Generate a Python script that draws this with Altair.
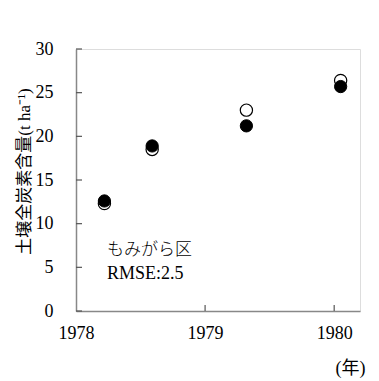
import altair as alt
import pandas as pd

# data
years = [1978.22, 1978.59, 1979.32, 1980.05]
open_vals = [12.3, 18.5, 23.0, 26.4]     # open circles
filled_vals = [12.6, 18.9, 21.2, 25.7]   # filled circles
y_ticks = [0, 5, 10, 15, 20, 25, 30]
x_ticks = [1978, 1979, 1980]
notes = ["もみがら区", "RMSE:2.5"]
note_x = [1978.24, 1978.24]
note_y = [7.0, 4.25]

SERIF = "Liberation Serif"
CJK = "Noto Sans CJK JP"
MIXED = "Liberation Serif, Noto Sans CJK JP"

df_open = pd.DataFrame({"year": years, "v": open_vals})
df_fill = pd.DataFrame({"year": years, "v": filled_vals})
df_yt = pd.DataFrame({"t": y_ticks})
df_xt = pd.DataFrame({"t": x_ticks[1:]})
df_notes = pd.DataFrame({"x": note_x, "y": note_y, "label": notes})

xscale = alt.Scale(domain=[1978, 1980.2], nice=False, zero=False)
yscale = alt.Scale(domain=[0, 30], nice=False)

xaxis = alt.Axis(values=x_ticks, format="d", ticks=False, grid=False,
                 labelFont=SERIF, labelFontSize=18, labelColor="black",
                 labelBaseline="middle", labelPadding=22, labelFlush=False,
                 domainColor="#888888", domainWidth=1.5,
                 title="(年)", titleFont=MIXED, titleFontSize=18, titleFontWeight="normal",
                 titleColor="black", titleX=274, titleY=57, titleBaseline="middle")
yaxis = alt.Axis(values=y_ticks, ticks=False, grid=False,
                 labelFont=SERIF, labelFontSize=18, labelColor="black",
                 labelPadding=23, labelBaseline="middle",
                 domainColor="#888888", domainWidth=1.5,
                 title="土壌全炭素含量(t ha⁻¹)", titleFont=MIXED, titleFontSize=17,
                 titleFontWeight="normal", titleColor="black", titleAlign="center",
                 titleBaseline="middle", titleX=-52, titleY=122, titleAngle=-90)

base_open = alt.Chart(df_open).mark_point(
    shape="circle", filled=True, fill="white", stroke="black", strokeWidth=1.2,
    size=150, opacity=1
).encode(
    x=alt.X("year:Q", scale=xscale, axis=xaxis),
    y=alt.Y("v:Q", scale=yscale, axis=yaxis),
)

filled = alt.Chart(df_fill).mark_point(
    shape="circle", filled=True, fill="black", stroke="black", strokeWidth=1,
    size=150, opacity=1
).encode(
    x=alt.X("year:Q", scale=xscale),
    y=alt.Y("v:Q", scale=yscale),
)

yticks = alt.Chart(df_yt).mark_rule(color="#555555", strokeWidth=1.2).encode(
    y=alt.Y("t:Q", scale=yscale),
    x=alt.value(0),
    x2=alt.value(6),
)
xticks = alt.Chart(df_xt).mark_rule(color="#555555", strokeWidth=1.2).encode(
    x=alt.X("t:Q", scale=xscale),
    y=alt.value(262),
    y2=alt.value(256),
)

note1 = alt.Chart(df_notes.iloc[[0]]).mark_text(
    align="left", baseline="middle", font=CJK, fontSize=17, fontWeight=300, color="black"
).encode(
    x=alt.X("x:Q", scale=xscale),
    y=alt.Y("y:Q", scale=yscale),
    text="label:N",
)
note2 = alt.Chart(df_notes.iloc[[1]]).mark_text(
    align="left", baseline="middle", font=SERIF, fontSize=18, color="black"
).encode(
    x=alt.X("x:Q", scale=xscale),
    y=alt.Y("y:Q", scale=yscale),
    text="label:N",
)

chart = alt.layer(yticks, xticks, base_open, filled, note1, note2).properties(
    width=284, height=262,
    autosize=alt.AutoSizeParams(type="none"),
    padding={"left": 68, "top": 41, "right": 11, "bottom": 68},
).configure_view(stroke=None).configure(
    background="white", font=SERIF
).configure_axis(labelFont=SERIF)

chart.save("out.html", embed_options={"renderer": "svg", "actions": False})
